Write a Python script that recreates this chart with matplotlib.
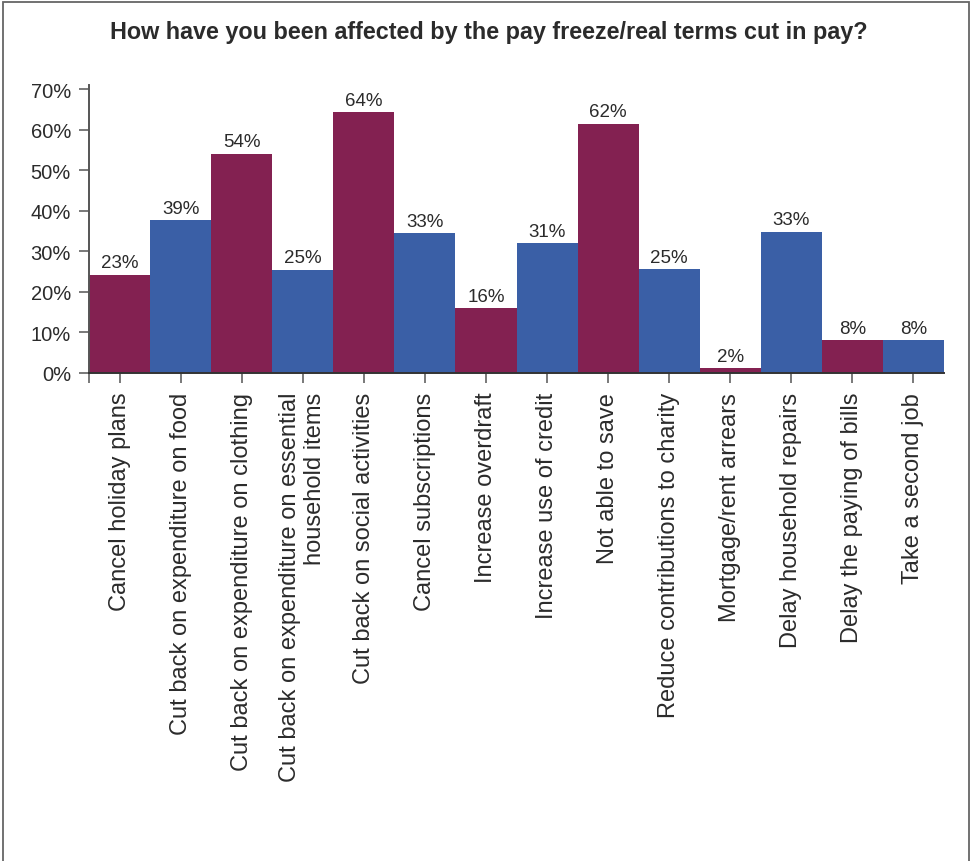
import matplotlib
matplotlib.use("Agg")
import matplotlib.pyplot as plt
from matplotlib.patches import Rectangle

plt.rcParams['font.family'] = ['Liberation Sans', 'DejaVu Sans']

categories = [
    "Cancel holiday plans",
    "Cut back on expenditure on food",
    "Cut back on expenditure on clothing",
    "Cut back on expenditure on essential\nhousehold items",
    "Cut back on social activities",
    "Cancel subscriptions",
    "Increase overdraft",
    "Increase use of credit",
    "Not able to save",
    "Reduce contributions to charity",
    "Mortgage/rent arrears",
    "Delay household repairs",
    "Delay the paying of bills",
    "Take a second job",
]
bar_heights = [24.2, 37.7, 54.0, 25.4, 64.3, 34.5, 16.0, 32.0, 61.4, 25.6, 1.2, 34.8, 8.1, 8.1]
value_labels = ["23%", "39%", "54%", "25%", "64%", "33%", "16%", "31%", "62%", "25%", "2%", "33%", "8%", "8%"]
group = ["m", "b", "m", "b", "m", "b", "m", "b", "m", "b", "m", "b", "m", "b"]
yticks = [0, 10, 20, 30, 40, 50, 60, 70]
title = "How have you been affected by the pay freeze/real terms cut in pay?"

palette = {"m": "#832151", "b": "#3A5FA6"}
text_color = "#2b2b2b"
spine_color = "#555555"

W, H = 977, 862
fig = plt.figure(figsize=(W / 100, H / 100), dpi=100)
ax = fig.add_axes([89 / W, 1 - 374 / H, (944 - 89) / W, (374 - 86) / H])

x = list(range(len(categories)))
ax.bar(x, bar_heights, width=1.0, color=[palette[g] for g in group], linewidth=0)
for xi, h, lab in zip(x, bar_heights, value_labels):
    ax.annotate(lab, (xi, h), xytext=(0, 2.5), textcoords="offset points",
                ha="center", va="bottom", fontsize=13.5, color=text_color)

ax.set_xlim(-0.5, len(categories) - 0.5)
ax.set_ylim(0, 71)
ax.set_yticks(yticks)
ax.set_yticklabels([f"{v}%" for v in yticks], fontsize=14.5, color=text_color)
ax.set_xticks(x)
ax.set_xticklabels(categories, rotation=90, fontsize=17, color=text_color,
                   ha="center", va="top", multialignment="right")
ax.set_xticks([-0.5], minor=True)
ax.tick_params(axis="x", which="both", length=7.5, width=1.1, color=spine_color, pad=6)
ax.tick_params(axis="y", length=7.5, width=1.1, color=spine_color, pad=5.5)

for s in ["top", "right"]:
    ax.spines[s].set_visible(False)
ax.spines["left"].set_color(spine_color)
ax.spines["left"].set_linewidth(1.4)
ax.spines["bottom"].set_color("#333333")
ax.spines["bottom"].set_linewidth(1.4)

fig.text(0.5, 1 - 33 / H, title, ha="center", va="center", fontsize=16.8,
         fontweight="bold", color=text_color)

fig.patches.append(Rectangle((3 / W, -0.05), (969 - 3) / W, 1.05 - 3 / H,
                             transform=fig.transFigure, fill=False,
                             edgecolor="#666666", linewidth=1.3))

fig.savefig("out.png", dpi=100)
